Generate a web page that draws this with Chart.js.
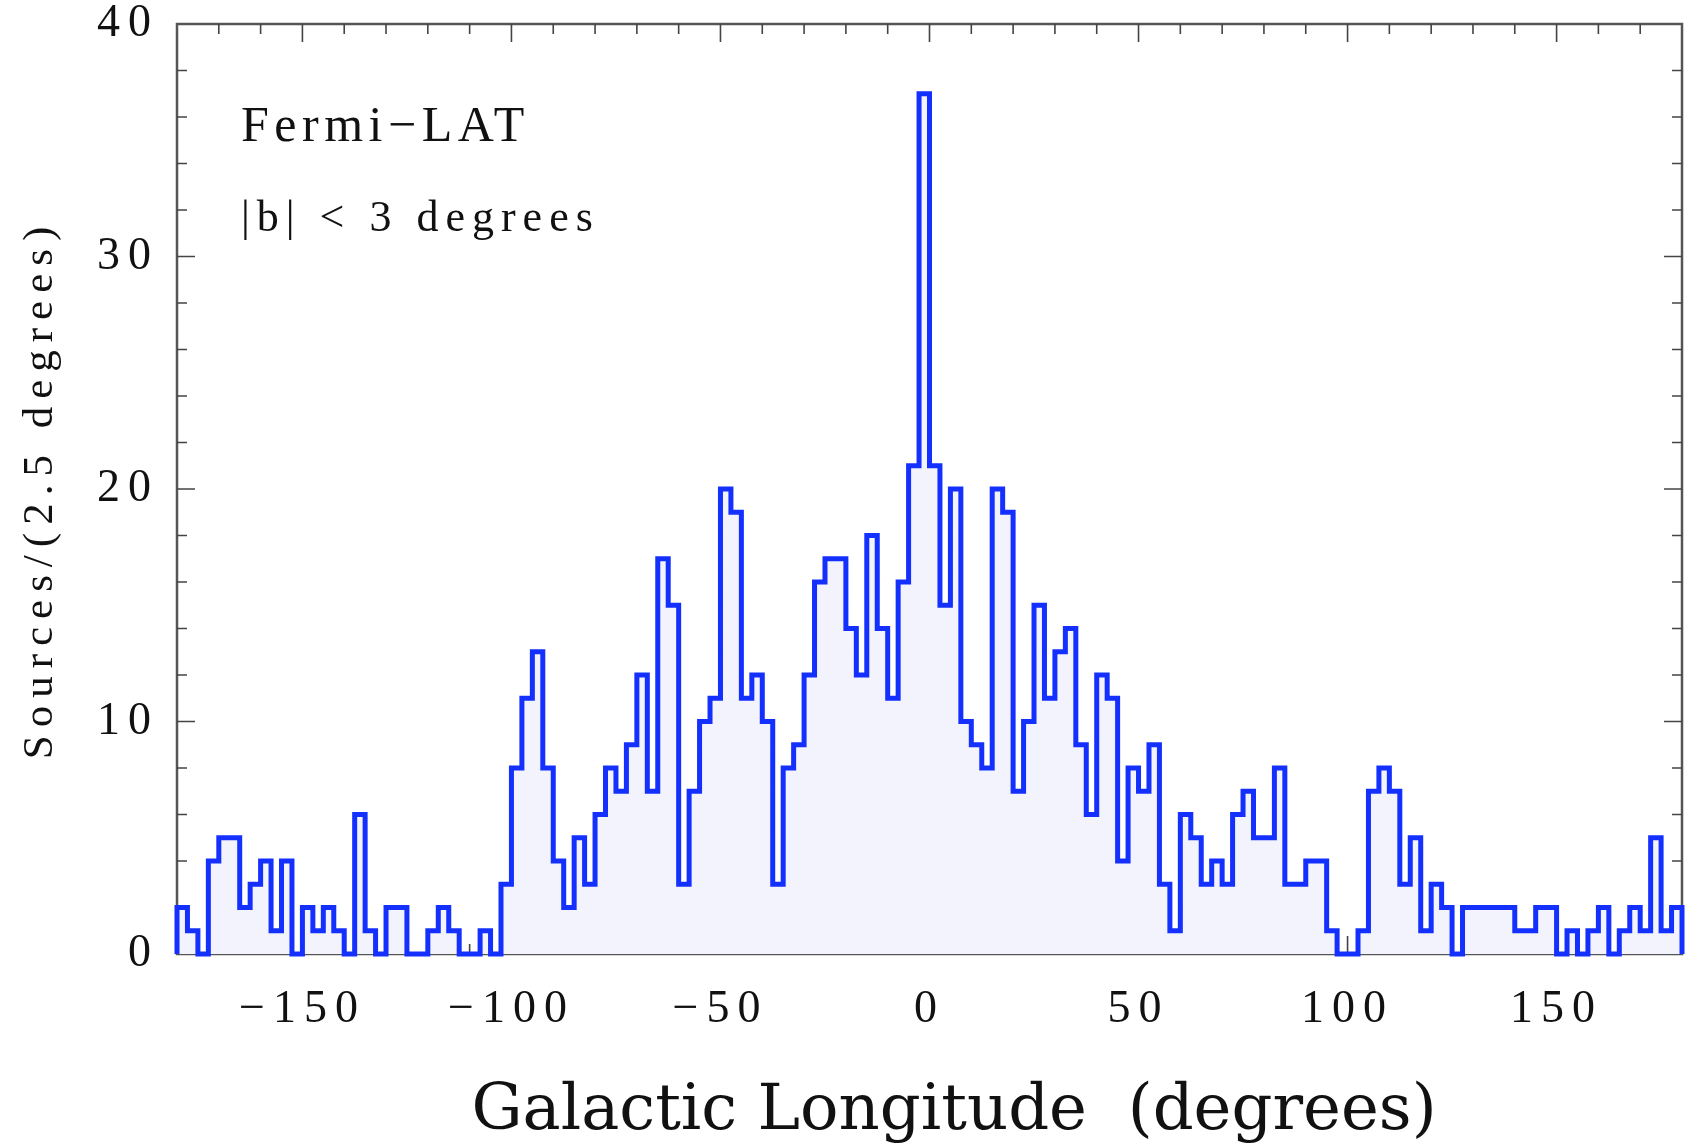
<!DOCTYPE html>
<html>
<head>
<meta charset="utf-8">
<script src="https://cdn.jsdelivr.net/npm/chart.js@4.4.1/dist/chart.umd.min.js"></script>
<style>
  html, body { margin: 0; padding: 0; background: #fff; }
  canvas { display: block; }
</style>
</head>
<body>
<canvas id="lon-chart" width="1687" height="1146"></canvas>
<script>
// Sources per 2.5 degree bin of galactic longitude (|b| < 3)
const binStart = -180;
const binWidth = 2.5;
const counts = [
  2, 1, 0, 4, 5, 5, 2, 3, 4, 1, 4, 0,          // -180 .. -150
  2, 1, 2, 1, 0, 6, 1, 0, 2, 2, 0, 0,          // -150 .. -120
  1, 2, 1, 0, 0, 1, 0, 3, 8, 11, 13, 8,        // -120 .. -90
  4, 2, 5, 3, 6, 8, 7, 9, 12, 7, 17, 15,       // -90 .. -60
  3, 7, 10, 11, 20, 19, 11, 12, 10, 3, 8, 9,   // -60 .. -30
  12, 16, 17, 17, 14, 12, 18, 14, 11, 16, 21, 37, // -30 .. 0
  21, 15, 20, 10, 9, 8, 20, 19, 7, 10, 15, 11, // 0 .. 30
  13, 14, 9, 6, 12, 11, 4, 8, 7, 9, 3, 1,      // 30 .. 60
  6, 5, 3, 4, 3, 6, 7, 5, 5, 8, 3, 3,          // 60 .. 90
  4, 4, 1, 0, 0, 1, 7, 8, 7, 3, 5, 1,          // 90 .. 120
  3, 2, 0, 2, 2, 2, 2, 2, 1, 1, 2, 2,          // 120 .. 150
  0, 1, 0, 1, 2, 0, 1, 2, 1, 5, 1, 2,          // 150 .. 180
];
const xTickLabels = [-150, -100, -50, 0, 50, 100, 150];
const yTickLabels = [0, 10, 20, 30, 40];

const serif = "'Liberation Serif', 'Times New Roman', serif";
const minus = (v) => String(v).replace("-", "\u2212");

// step outline: left edge of every bin, closed down to zero at both ends
const binEdges = counts.map((_, i) => binStart + i * binWidth);
const binEnd = binStart + counts.length * binWidth;
const points = [{ x: binStart, y: 0 }]
  .concat(binEdges.map((x, i) => ({ x: x, y: counts[i] })))
  .concat([{ x: binEnd, y: counts[counts.length - 1] }, { x: binEnd, y: 0 }]);

// frame + inward ticks on all four sides
const frameTicks = {
  id: "frameTicks",
  beforeDraw(chart) {
    chart.ctx.letterSpacing = "8px";
  },
  beforeDatasetsDraw(chart) {
    const { ctx, chartArea: a, scales } = chart;
    ctx.save();
    ctx.strokeStyle = "#555";
    ctx.lineWidth = 2.5;
    ctx.strokeRect(a.left, a.top, a.right - a.left, a.bottom - a.top);

    ctx.strokeStyle = "#444";
    ctx.lineWidth = 1.6;
    ctx.beginPath();
    scales.x.ticks.forEach((t) => {
      if (t.value <= scales.x.min || t.value >= scales.x.max) return;
      const px = scales.x.getPixelForValue(t.value);
      const len = xTickLabels.includes(t.value) ? 18 : 10;
      ctx.moveTo(px, a.bottom);
      ctx.lineTo(px, a.bottom - len);
      ctx.moveTo(px, a.top);
      ctx.lineTo(px, a.top + len);
    });
    scales.y.ticks.forEach((t) => {
      if (t.value <= scales.y.min || t.value >= scales.y.max) return;
      const py = scales.y.getPixelForValue(t.value);
      const len = yTickLabels.includes(t.value) ? 18 : 10;
      ctx.moveTo(a.left, py);
      ctx.lineTo(a.left + len, py);
      ctx.moveTo(a.right, py);
      ctx.lineTo(a.right - len, py);
    });
    ctx.stroke();
    ctx.restore();
  },
  afterDraw(chart) {
    const { ctx, chartArea: a } = chart;
    ctx.save();
    ctx.fillStyle = "#111";

    // inset labels
    ctx.textAlign = "left";
    ctx.textBaseline = "alphabetic";
    ctx.letterSpacing = "5.5px";
    ctx.font = "50px " + serif;
    ctx.fillText("Fermi\u2212LAT", 241, 141);
    ctx.letterSpacing = "7px";
    ctx.font = "44px " + serif;
    ctx.fillText("|b| < 3 degrees", 241, 231);

    // x axis title
    ctx.letterSpacing = "0px";
    ctx.textAlign = "center";
    ctx.textBaseline = "middle";
    ctx.font = "64px 'DejaVu Serif', serif";
    ctx.fillText("Galactic Longitude  (degrees)", 954, 1112);

    // y axis title
    ctx.translate(41, (a.top + a.bottom) / 2);
    ctx.rotate(-Math.PI / 2);
    ctx.letterSpacing = "8px";
    ctx.font = "43px " + serif;
    ctx.fillText("Sources/(2.5 degrees)", 0, 0);
    ctx.restore();
    ctx.letterSpacing = "0px";
  },
};

new Chart(document.getElementById("lon-chart"), {
  type: "line",
  data: {
    datasets: [
      {
        data: points,
        stepped: "before",
        borderColor: "#1430ff",
        borderWidth: 5,
        backgroundColor: "#f2f3fc",
        fill: "origin",
        pointRadius: 0,
        clip: 8,
      },
    ],
  },
  options: {
    responsive: false,
    animation: false,
    layout: { padding: { top: 24, right: 5, left: 0, bottom: 0 } },
    plugins: { legend: { display: false }, tooltip: { enabled: false } },
    scales: {
      x: {
        type: "linear",
        min: -180,
        max: 180,
        grid: { display: false, drawTicks: false },
        border: { display: false },
        afterFit: (s) => {
          s.height = 192;
          s.paddingLeft = 0;
          s.paddingRight = 0;
        },
        ticks: {
          stepSize: 10,
          autoSkip: false,
          maxRotation: 0,
          padding: 33,
          color: "#111",
          font: { family: serif, size: 46, lineHeight: 1 },
          callback: (v) => (xTickLabels.includes(v) ? minus(v) : ""),
        },
      },
      y: {
        min: 0,
        max: 40,
        grid: { display: false, drawTicks: false },
        border: { display: false },
        afterFit: (s) => {
          s.width = 177;
          s.paddingTop = 0;
          s.paddingBottom = 0;
        },
        ticks: {
          stepSize: 2,
          autoSkip: false,
          padding: 18,
          color: "#111",
          font: { family: serif, size: 46, lineHeight: 0.4 },
          callback: (v) => (yTickLabels.includes(v) ? String(v) : ""),
        },
      },
    },
  },
  plugins: [frameTicks],
});
</script>
</body>
</html>
